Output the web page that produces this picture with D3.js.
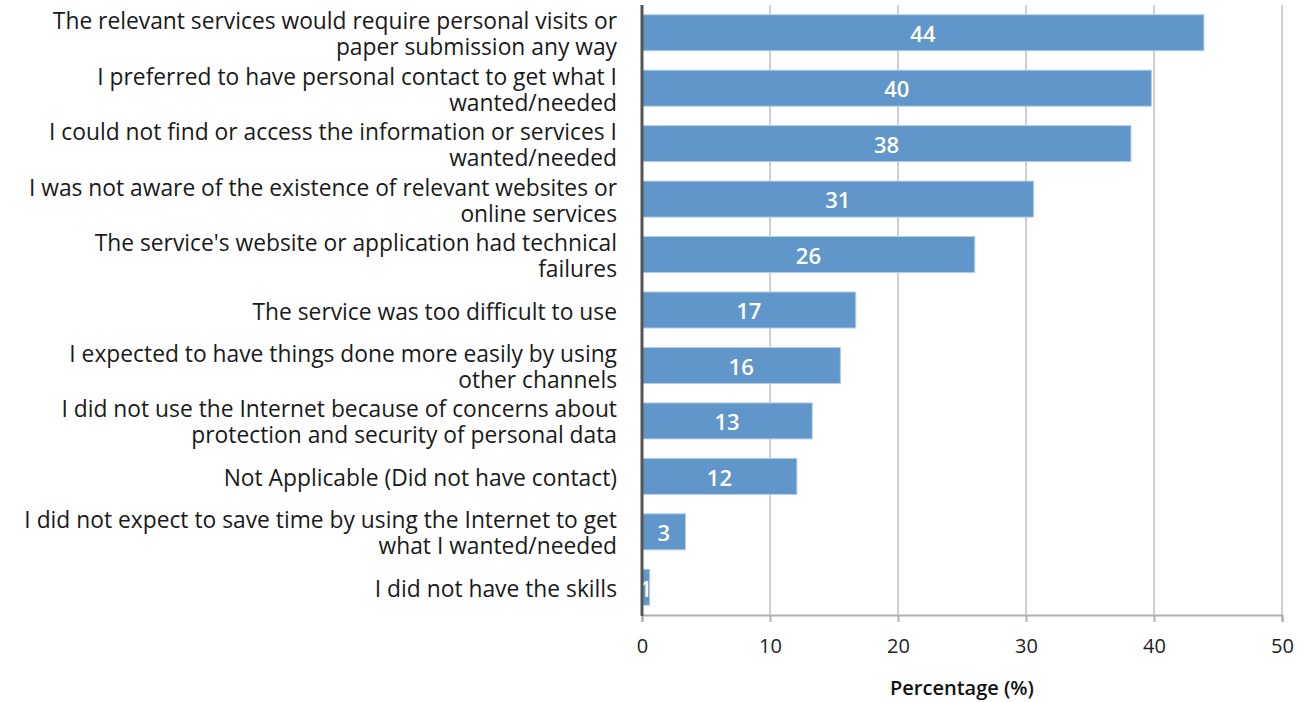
<!DOCTYPE html>
<html>
<head>
<meta charset="utf-8">
<script src="https://cdn.jsdelivr.net/npm/d3@7"></script>
<style>
  html, body { margin: 0; padding: 0; background: #fff; }
  svg { display: block; font-family: "Open Sans", Lato, sans-serif; }
</style>
</head>
<body>
<svg id="chart" width="1312" height="702"></svg>
<script>
// ---- data ----
const categories = [
  ["The relevant services would require personal visits or", "paper submission any way"],
  ["I preferred to have personal contact to get what I", "wanted/needed"],
  ["I could not find or access the information or services I", "wanted/needed"],
  ["I was not aware of the existence of relevant websites or", "online services"],
  ["The service's website or application had technical", "failures"],
  ["The service was too difficult to use"],
  ["I expected to have things done more easily by using", "other channels"],
  ["I did not use the Internet because of concerns about", "protection and security of personal data"],
  ["Not Applicable (Did not have contact)"],
  ["I did not expect to save time by using the Internet to get", "what I wanted/needed"],
  ["I did not have the skills"]
];
const values = [43.9, 39.8, 38.2, 30.6, 26.0, 16.7, 15.5, 13.3, 12.1, 3.4, 0.6];
const xTicks = [0, 10, 20, 30, 40, 50];
const xTitle = "Percentage (%)";

// ---- layout ----
const svg = d3.select("#chart");
const margin = { left: 642, right: 30, top: 5, bottom: 87 };
const W = 1312, H = 702;
const x = d3.scaleLinear().domain([0, 50]).range([margin.left, W - margin.right]);
const ids = categories.map((d, i) => i);
const y = d3.scaleBand().domain(ids).range([margin.top, H - margin.bottom])
  .paddingInner(0.35).paddingOuter(0.175);

// gridlines
svg.append("g")
  .selectAll("line")
  .data(xTicks.filter(t => t > 0))
  .join("line")
  .attr("x1", d => x(d)).attr("x2", d => x(d))
  .attr("y1", margin.top).attr("y2", H - margin.bottom)
  .attr("stroke", "#cfcfcf").attr("stroke-width", 2);

// bottom axis
const xAxis = d3.axisBottom(x).tickValues(xTicks).tickSize(7).tickPadding(17);
const gx = svg.append("g")
  .attr("transform", `translate(0,${H - margin.bottom})`)
  .call(xAxis);
gx.select(".domain").attr("stroke", "#b0b0b0").attr("stroke-width", 2);
gx.selectAll(".tick line").attr("stroke", "#b0b0b0").attr("stroke-width", 2);
gx.selectAll(".tick text")
  .attr("font-family", "'Open Sans', Lato, sans-serif")
  .attr("font-size", 20).attr("fill", "#222");

// bars
svg.append("g")
  .selectAll("rect")
  .data(values)
  .join("rect")
  .attr("x", x(0))
  .attr("y", (d, i) => y(i))
  .attr("width", d => x(d) - x(0))
  .attr("height", y.bandwidth())
  .attr("fill", "#6096c9")
  .attr("stroke", "#b4cfea")
  .attr("stroke-width", 1);

// value labels
svg.append("g")
  .selectAll("text")
  .data(values)
  .join("text")
  .attr("x", d => (x(0) + x(d)) / 2)
  .attr("y", (d, i) => y(i) + y.bandwidth() / 2)
  .attr("dy", "0.42em")
  .attr("text-anchor", "middle")
  .attr("fill", "#fff")
  .attr("font-size", 22)
  .attr("font-weight", 600)
  .text(d => Math.round(d));

// left axis line
svg.append("line")
  .attr("x1", x(0)).attr("x2", x(0))
  .attr("y1", margin.top).attr("y2", H - margin.bottom + 1)
  .attr("stroke", "#555").attr("stroke-width", 3);

// category labels
const lineH = 26;
const lab = svg.append("g")
  .selectAll("text")
  .data(categories)
  .join("text")
  .attr("text-anchor", "end")
  .attr("font-size", 22.8)
  .attr("fill", "#1a1a1a");
lab.each(function(lines, i) {
  const cy = y(i) + y.bandwidth() / 2;
  const n = lines.length;
  d3.select(this).selectAll("tspan")
    .data(lines)
    .join("tspan")
    .attr("x", 617)
    .attr("y", (l, j) => cy + (j - (n - 1) / 2) * lineH)
    .attr("dy", "0.42em")
    .text(l => l);
});

// axis title
svg.append("text")
  .attr("x", (x(0) + x(50)) / 2)
  .attr("y", 688)
  .attr("dy", "0.36em")
  .attr("text-anchor", "middle")
  .attr("font-size", 20)
  .attr("font-weight", 600)
  .attr("fill", "#111")
  .text(xTitle);
</script>
</body>
</html>
